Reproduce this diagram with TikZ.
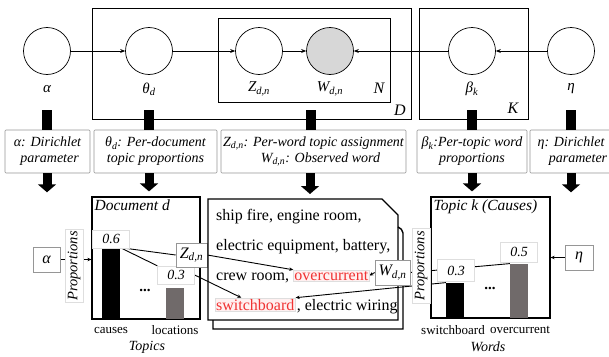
\documentclass[tikz,border=0pt]{standalone}
\usepackage{fontspec}
\setmainfont{Liberation Serif}
\usetikzlibrary{arrows.meta,backgrounds}
\definecolor{descgray}{RGB}{150,150,150}
\definecolor{valgray}{RGB}{222,222,222}
\definecolor{obsgray}{RGB}{215,215,215}
\definecolor{bargray}{RGB}{112,106,106}
\definecolor{wordred}{RGB}{240,50,50}
\definecolor{wordpink}{RGB}{255,240,240}
\newcommand\vsub[1]{\textsubscript{\itshape #1}}
\tikzset{
  lat/.style={circle, draw, line width=0.7pt, minimum size=47pt, inner sep=0pt},
  obs/.style={lat, fill=obsgray},
  varlab/.style={font=\fontsize{15}{18}\selectfont\itshape},
  platelab/.style={font=\fontsize{16}{18}\selectfont\itshape},
  edge/.style={-{Stealth[length=5pt,width=4pt]}, line width=1pt},
  stub/.style={line width=10pt},
  bigarrow/.style={line width=9pt, -{Triangle[length=8pt,width=18pt]}},
  desc/.style={draw=descgray, line width=0.6pt, rounded corners=1pt, fill=white,
    font=\fontsize{14}{16}\selectfont\itshape, minimum height=43pt, inner sep=1pt},
  panel/.style={draw, line width=1.2pt, inner sep=0pt},
  ptitle/.style={anchor=north west, font=\fontsize{15.5}{17}\selectfont\itshape, inner sep=3pt},
  bar/.style={anchor=south, minimum width=18pt, inner sep=0pt},
  valbox/.style={draw=valgray, fill=white, font=\fontsize{14}{15}\selectfont\itshape,
    minimum width=37pt, minimum height=18pt, inner sep=1pt},
  labbox/.style={draw=descgray, fill=white, line width=0.6pt, inner sep=1pt,
    font=\fontsize{16}{18}\selectfont\itshape},
  propbox/.style={draw=valgray, fill=white, rotate=90, minimum width=73pt, minimum height=18pt,
    inner sep=0pt, font=\fontsize{14.5}{15}\selectfont\itshape},
  axlab/.style={font=\fontsize{13}{14}\selectfont},
  axtitle/.style={font=\fontsize{14}{15}\selectfont\itshape},
  dotlab/.style={font=\fontsize{15}{15}\selectfont\bfseries},
  txt/.style={anchor=base west, inner sep=1pt, font=\fontsize{16}{18}\selectfont},
  word/.style={txt, draw=valgray, fill=wordpink, text=wordred},
  link/.style={line width=0.9pt},
  linkarrow/.style={link, -{Stealth[length=4pt,width=3.5pt]}},
}
\begin{document}
\begin{tikzpicture}[x=1pt,y=-1pt]
\useasboundingbox (0,0) rectangle (609,356);

% plates
\draw[line width=0.7pt] (92,8) rectangle (411,119);
\draw[line width=0.7pt] (218,18) rectangle (390,102);
\draw[line width=0.7pt] (419,8) rectangle (528,119);
\node[platelab] (plN) at (379,88) {N};
\node[platelab] (plD) at (400,110) {D};
\node[platelab] (plK) at (513,108) {K};

% graphical model
\node[lat] (alpha) at (47,51) {};
\node[lat] (theta) at (149,51) {};
\node[lat] (z) at (259,51) {};
\node[obs] (w) at (330,51) {};
\node[lat] (beta) at (472,51) {};
\node[lat] (eta) at (571,51) {};
\node[varlab] (lalpha) at (47,89) {α};
\node[varlab] (ltheta) at (149,89) {θ\vsub{d}};
\node[varlab] (lz) at (259,89) {Z\vsub{d,n}};
\node[varlab] (lw) at (330,89) {W\vsub{d,n}};
\node[varlab] (lbeta) at (472,89) {β\vsub{k}};
\node[varlab] (leta) at (571,89) {η};
\draw[edge] (alpha) -- (theta);
\draw[edge] (theta) -- (z);
\draw[edge] (z) -- (w);
\draw[edge] (beta) -- (w);
\draw[edge] (eta) -- (beta);

% descriptions
\node[desc, minimum width=85pt, align=right] (dA) at (47.5,151.5) {α: Dirichlet\\parameter\,};
\node[desc, minimum width=123pt, align=center] (dT) at (155.5,151.5) {θ\vsub{d}: Per-document\\topic proportions};
\node[desc, minimum width=185pt, align=center] (dZ) at (313.5,151.5) {Z\vsub{d,n}: Per-word topic assignment\\\quad W\vsub{d,n}: Observed word};
\node[desc, minimum width=110pt, align=center] (dB) at (472,151.5) {β\vsub{k}:Per-topic word\\proportions};
\node[desc, minimum width=82pt, align=center] (dE) at (571,151.5) {η: Dirichlet\\\quad parameter};
\draw[stub] (alpha |- 0,110) -- (alpha |- dA.north);
\draw[stub] (theta |- 0,110) -- (theta |- dT.north);
\draw[stub] (311,110) -- (311,130);
\draw[stub] (beta |- 0,110) -- (beta |- dB.north);
\draw[stub] (eta |- 0,110) -- (eta |- dE.north);

% document panel
\node[panel, minimum width=108pt, minimum height=122pt] (doc) at (146,258) {};
\node[ptitle] (doct) at (doc.north west) {Document d};
\node[bar, fill=black, minimum height=71pt] (dbA) at (111,319) {};
\node[bar, fill=bargray, minimum height=31pt] (dbB) at (175,319) {};
\node[valbox] (v06) at (111,239) {0.6};
\node[valbox] (v03) at (176,275) {0.3};
\node[dotlab] (ddots) at (145,290) {...};
\node[axlab] (xc) at (111,330) {causes};
\node[axlab] (xl) at (175,330) {locations};
\node[axtitle] (xt) at (147,347) {Topics};
\node[propbox] (pd) at (74,266) {Proportions};
\node[labbox, minimum width=27pt, minimum height=25pt] (la2) at (46.5,259.5) {α};
\node[labbox, minimum width=31pt, minimum height=24pt] (zd) at (191.5,255) {Z\vsub{d,n}};

% word document
\draw[line width=1.4pt] (208,199) -- (382,199) -- (398,215) -- (398,320) -- (208,320) -- cycle;
\draw[line width=1.4pt] (213,320) -- (213,329) -- (403,329) -- (403,233) to[bend right=30] (398,227);
\node[txt] (l1) at (215,220) {ship fire, engine room,};
\node[txt] (l2) at (215,250) {electric equipment, battery,};
\node[txt] (l3) at (215,280) {crew room,};
\node[word] (ov) at ([xshift=3pt]l3.base east) {overcurrent};
\node[word] (sw) at (215,310) {switchboard};
\node[txt, inner sep=0pt] (l4) at ([xshift=1pt]sw.base east) {, electric wiring};
\node[labbox, minimum width=35pt, minimum height=25pt] (wd) at (392.5,272.5) {W\vsub{d,n}};

% topic panel
\node[panel, minimum width=119pt, minimum height=121pt] (topic) at (490.5,257.5) {};
\node[ptitle] (topict) at (topic.north west) {Topic k (Causes)};
\node[bar, fill=black, minimum height=35pt] (tbA) at (455,318) {};
\node[bar, fill=bargray, minimum height=54pt] (tbB) at (519,318) {};
\node[valbox, minimum height=22pt] (v03b) at (456,270.5) {0.3};
\node[valbox, minimum height=20pt] (v05) at (519,252) {0.5};
\node[dotlab] (tdots) at (490,288) {...};
\node[axlab] (xs) at (453,330) {switchboard};
\node[axlab] (xo) at (520,330) {overcurrent};
\node[axtitle] (xw) at (488,347) {Words};
\node[propbox, minimum width=75pt] (pt) at (421,266) {Proportions};
\node[labbox, minimum width=28pt, minimum height=25pt] (le) at (579,257.5) {η};

% big arrows
\draw[bigarrow] (alpha |- dA.south) -- ++(0,19);
\draw[bigarrow, shorten >=5pt] (theta |- dT.south) -- (theta |- doc.north);
\draw[bigarrow, shorten >=5pt] (310,173) -- (310,199);
\draw[bigarrow, shorten >=5pt] (beta |- dB.south) -- (beta |- topic.north);
\draw[bigarrow] (eta |- dE.south) -- ++(0,19);

% links behind the boxes
\begin{scope}[on background layer]
\draw[link] (dbA.north east) -- (zd.west);
\draw[linkarrow] (zd.east) -- (ov.north west);
\draw[link] (dbA.north east) -- (v03.north west);
\draw[linkarrow] (v03.east) -- ([xshift=-14pt]sw.north);
\draw[link] (tbB.north west) -- (wd.east);
\draw[linkarrow] (wd.west) -- (ov.east);
\draw[linkarrow] (tbA.north west) -- (sw.north east);
\draw[linkarrow] (la2.east) -- (la2.east -| doc.west);
\draw[linkarrow] (le.west) -- (le.west -| topic.east);
\end{scope}
\end{tikzpicture}
\end{document}
